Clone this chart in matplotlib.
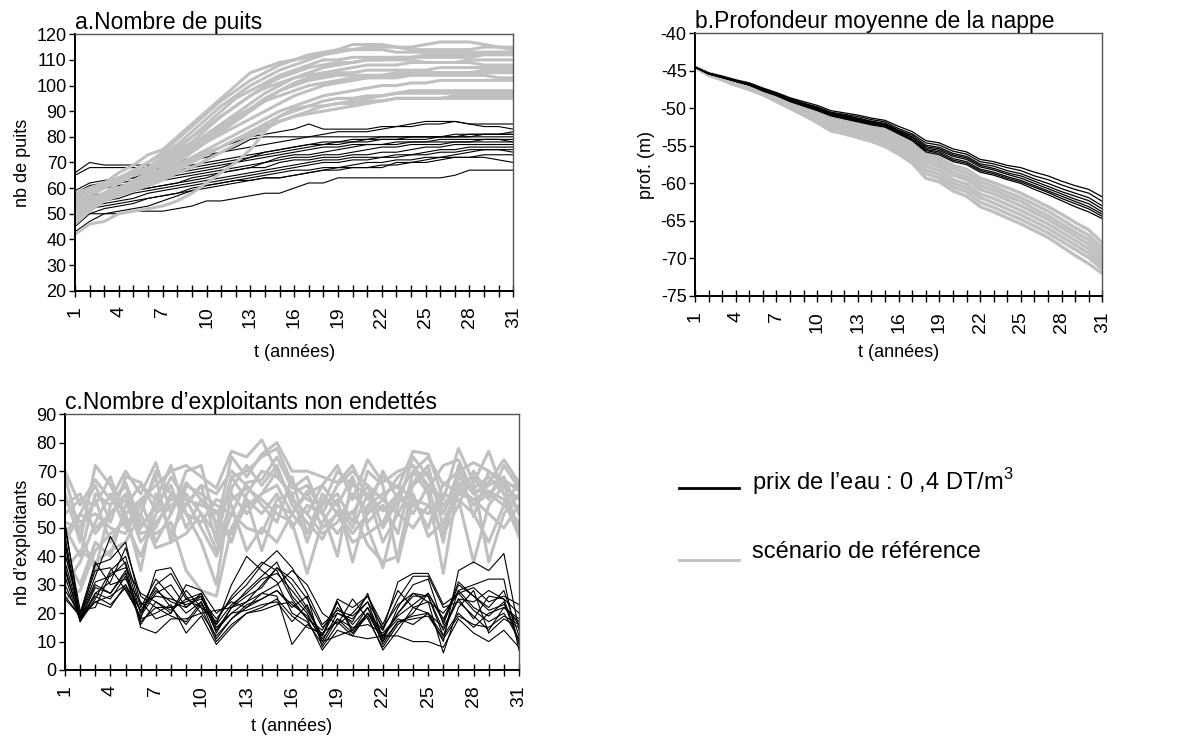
import numpy as np
import matplotlib
matplotlib.use('Agg')
import matplotlib.pyplot as plt
from matplotlib.lines import Line2D

plt.rcParams['font.family'] = ['Liberation Sans', 'DejaVu Sans']
plt.rcParams['mathtext.fontset'] = 'custom'
plt.rcParams['mathtext.rm'] = 'Liberation Sans'
plt.rcParams['axes.unicode_minus'] = False

BLACK = '#000000'
GREY = '#C0C0C0'

years = list(range(1, 32))

# ---- a. Nombre de puits : prix de l'eau 0,4 DT/m3 (black)
puits_prix = [
    [66, 70, 69, 69, 69, 69, 69, 70, 71, 72, 74, 76, 79, 80, 80, 80, 80, 80, 80, 80, 80, 80, 80, 80, 80, 80, 80, 80, 81, 81, 81],
    [65, 68, 68, 68, 68, 68, 69, 70, 72, 74, 76, 78, 80, 81, 82, 83, 85, 83, 83, 83, 83, 84, 84, 85, 86, 86, 86, 85, 85, 85, 85],
    [59, 62, 63, 64, 66, 67, 68, 69, 71, 73, 74, 75, 76, 77, 78, 79, 80, 81, 82, 82, 82, 83, 84, 84, 85, 85, 86, 85, 84, 84, 83],
    [57, 60, 62, 63, 64, 66, 67, 68, 69, 70, 71, 72, 73, 74, 75, 76, 77, 78, 78, 79, 79, 80, 80, 80, 80, 80, 81, 81, 81, 81, 82],
    [55, 58, 60, 61, 62, 63, 64, 65, 66, 67, 68, 70, 72, 74, 75, 76, 77, 77, 78, 78, 78, 79, 79, 79, 79, 80, 80, 80, 80, 80, 80],
    [54, 57, 58, 59, 61, 62, 63, 64, 65, 66, 67, 68, 69, 70, 72, 73, 73, 74, 75, 76, 77, 77, 77, 78, 78, 78, 78, 78, 79, 79, 79],
    [53, 56, 57, 58, 59, 60, 61, 62, 64, 65, 66, 67, 68, 70, 71, 72, 72, 73, 73, 74, 75, 76, 76, 77, 77, 77, 78, 78, 78, 78, 78],
    [52, 55, 56, 58, 59, 60, 61, 62, 63, 64, 66, 67, 68, 68, 70, 71, 71, 72, 72, 73, 73, 74, 74, 75, 76, 76, 77, 77, 77, 77, 77],
    [51, 54, 55, 56, 58, 59, 60, 61, 62, 63, 64, 65, 66, 67, 68, 69, 70, 71, 71, 72, 72, 72, 73, 73, 74, 75, 75, 76, 76, 76, 76],
    [50, 53, 54, 55, 56, 58, 59, 60, 61, 62, 63, 64, 65, 66, 67, 68, 69, 70, 70, 71, 71, 72, 72, 73, 73, 74, 74, 75, 75, 75, 75],
    [49, 52, 53, 54, 55, 56, 57, 58, 60, 61, 62, 63, 64, 65, 66, 67, 67, 68, 68, 68, 68, 68, 70, 70, 71, 72, 73, 74, 75, 75, 74],
    [47, 50, 52, 53, 54, 56, 57, 58, 59, 60, 61, 62, 63, 64, 64, 65, 66, 67, 67, 68, 68, 69, 69, 70, 70, 71, 72, 72, 73, 73, 73],
    [45, 50, 50, 50, 51, 51, 51, 52, 53, 55, 55, 56, 57, 58, 58, 60, 62, 62, 64, 64, 64, 64, 64, 64, 64, 64, 65, 67, 67, 67, 67],
    [43, 47, 50, 51, 52, 53, 55, 57, 59, 61, 62, 63, 63, 64, 64, 65, 66, 67, 68, 69, 70, 70, 71, 71, 72, 72, 72, 72, 72, 71, 70],
    [58, 61, 62, 63, 64, 65, 66, 67, 68, 69, 70, 71, 72, 73, 74, 75, 76, 77, 77, 78, 79, 79, 79, 80, 80, 80, 80, 81, 81, 81, 81],
    [56, 59, 61, 62, 63, 64, 65, 66, 67, 68, 69, 70, 71, 72, 73, 74, 75, 76, 76, 77, 77, 77, 78, 78, 78, 79, 79, 79, 79, 79, 78],
]

# ---- a. Nombre de puits : scenario de reference (grey)
puits_ref = [
    [55, 58, 62, 66, 69, 73, 75, 80, 85, 90, 95, 100, 105, 107, 109, 110, 111, 112, 114, 116, 116, 116, 115, 115, 116, 117, 117, 117, 116, 115, 115],
    [52, 57, 60, 63, 66, 70, 74, 79, 84, 89, 94, 98, 102, 105, 108, 110, 112, 113, 114, 114, 115, 115, 115, 114, 114, 114, 114, 114, 115, 115, 114],
    [57, 60, 62, 64, 67, 70, 73, 77, 82, 87, 92, 96, 100, 103, 106, 108, 110, 112, 113, 114, 114, 114, 113, 113, 113, 113, 113, 113, 113, 113, 113],
    [50, 55, 58, 62, 65, 68, 72, 76, 80, 85, 90, 95, 98, 101, 104, 106, 108, 110, 110, 111, 111, 111, 111, 111, 111, 111, 111, 111, 112, 112, 112],
    [48, 53, 57, 60, 63, 66, 70, 74, 78, 83, 88, 92, 96, 100, 103, 105, 107, 108, 109, 109, 110, 110, 110, 110, 109, 109, 109, 110, 110, 110, 110],
    [54, 58, 61, 63, 65, 67, 70, 73, 77, 81, 85, 89, 93, 97, 100, 103, 104, 105, 106, 107, 108, 108, 108, 109, 109, 109, 109, 109, 108, 108, 108],
    [46, 51, 55, 58, 61, 64, 67, 70, 74, 78, 82, 86, 90, 94, 98, 101, 103, 104, 105, 105, 106, 106, 106, 106, 106, 107, 107, 107, 107, 107, 107],
    [53, 56, 58, 60, 62, 64, 67, 71, 75, 79, 83, 87, 91, 95, 98, 100, 102, 103, 104, 104, 104, 104, 105, 105, 105, 105, 105, 105, 105, 105, 105],
    [56, 59, 61, 63, 65, 67, 69, 72, 75, 78, 81, 84, 87, 90, 93, 96, 98, 100, 101, 102, 103, 103, 103, 104, 104, 104, 104, 104, 104, 103, 103],
    [51, 55, 58, 60, 62, 64, 66, 69, 72, 75, 78, 81, 84, 87, 90, 92, 94, 96, 97, 98, 99, 100, 100, 101, 101, 102, 102, 102, 102, 102, 102],
    [49, 53, 56, 58, 60, 62, 64, 67, 70, 73, 76, 79, 82, 85, 88, 90, 92, 94, 95, 95, 96, 96, 97, 98, 98, 98, 98, 98, 98, 98, 98],
    [52, 55, 57, 59, 61, 63, 65, 68, 71, 74, 76, 79, 81, 84, 86, 88, 90, 92, 93, 94, 95, 96, 97, 97, 97, 97, 97, 97, 97, 97, 97],
    [47, 52, 55, 57, 59, 61, 63, 66, 68, 71, 74, 77, 80, 83, 86, 88, 89, 90, 91, 92, 93, 94, 95, 95, 95, 95, 96, 96, 96, 96, 96],
    [42, 46, 47, 50, 51, 52, 53, 55, 58, 62, 66, 70, 75, 82, 88, 91, 92, 92, 93, 93, 94, 94, 95, 95, 95, 95, 95, 95, 95, 95, 95],
    [58, 60, 62, 64, 66, 68, 71, 75, 80, 84, 88, 92, 96, 99, 101, 103, 105, 107, 108, 109, 110, 110, 111, 111, 112, 112, 112, 112, 113, 113, 113],
    [50, 54, 57, 59, 62, 65, 68, 72, 76, 80, 84, 88, 91, 94, 96, 98, 100, 101, 102, 103, 103, 104, 104, 104, 105, 105, 105, 105, 106, 106, 106],
]

# ---- b. Profondeur moyenne de la nappe (m)
prof_prix = [
    [-44.5, -45.3, -45.7, -46.2, -46.6, -47.3, -47.9, -48.6, -49.1, -49.6, -50.3, -50.6, -50.9, -51.3, -51.6, -52.4, -53.1, -54.3, -54.6, -55.4, -55.8, -56.8, -57.1, -57.6, -57.9, -58.5, -59.0, -59.7, -60.3, -60.8, -61.8],
    [-44.5, -45.3, -45.8, -46.3, -46.7, -47.4, -48.0, -48.7, -49.3, -49.8, -50.5, -50.8, -51.1, -51.5, -51.8, -52.7, -53.4, -54.6, -54.9, -55.7, -56.1, -57.1, -57.4, -57.9, -58.3, -59.0, -59.5, -60.2, -60.8, -61.3, -62.4],
    [-44.5, -45.3, -45.8, -46.3, -46.7, -47.4, -48.1, -48.8, -49.4, -49.9, -50.6, -50.9, -51.3, -51.7, -52.0, -52.9, -53.6, -54.9, -55.2, -56.0, -56.4, -57.4, -57.7, -58.3, -58.7, -59.4, -60.0, -60.7, -61.3, -61.9, -63.0],
    [-44.5, -45.4, -45.8, -46.3, -46.8, -47.5, -48.1, -48.9, -49.5, -50.0, -50.7, -51.0, -51.4, -51.8, -52.1, -53.0, -53.8, -55.1, -55.4, -56.2, -56.6, -57.6, -58.0, -58.6, -59.0, -59.7, -60.4, -61.1, -61.7, -62.3, -63.4],
    [-44.5, -45.4, -45.8, -46.4, -46.8, -47.5, -48.2, -48.9, -49.5, -50.1, -50.8, -51.1, -51.5, -51.9, -52.2, -53.1, -53.9, -55.3, -55.6, -56.4, -56.8, -57.8, -58.2, -58.8, -59.3, -60.0, -60.7, -61.4, -62.1, -62.7, -63.8],
    [-44.5, -45.4, -45.9, -46.4, -46.9, -47.6, -48.2, -49.0, -49.6, -50.2, -50.9, -51.2, -51.6, -52.0, -52.3, -53.2, -54.1, -55.5, -55.8, -56.7, -57.1, -58.1, -58.5, -59.1, -59.6, -60.3, -61.0, -61.7, -62.4, -63.1, -64.1],
    [-44.5, -45.4, -45.9, -46.4, -46.9, -47.6, -48.3, -49.0, -49.6, -50.2, -50.9, -51.3, -51.7, -52.1, -52.4, -53.3, -54.2, -55.6, -56.0, -56.9, -57.3, -58.3, -58.7, -59.3, -59.8, -60.5, -61.2, -62.0, -62.7, -63.4, -64.4],
    [-44.5, -45.4, -45.9, -46.4, -46.9, -47.7, -48.3, -49.1, -49.7, -50.3, -51.0, -51.4, -51.8, -52.2, -52.5, -53.4, -54.3, -55.8, -56.2, -57.1, -57.5, -58.5, -58.9, -59.5, -60.0, -60.8, -61.5, -62.3, -63.1, -63.8, -64.7],
]

prof_ref = [
    [-44.5, -45.3, -45.8, -46.3, -46.8, -47.4, -48.0, -48.7, -49.4, -50.2, -50.9, -51.3, -51.8, -52.3, -52.7, -53.6, -54.5, -56.0, -56.6, -57.6, -58.1, -59.3, -59.9, -60.6, -61.3, -62.2, -63.1, -64.1, -65.2, -66.2, -67.9],
    [-44.5, -45.4, -45.9, -46.4, -46.9, -47.5, -48.2, -48.9, -49.6, -50.4, -51.2, -51.6, -52.1, -52.6, -53.0, -53.9, -54.9, -56.4, -57.0, -58.0, -58.6, -59.8, -60.4, -61.2, -61.9, -62.8, -63.7, -64.8, -65.9, -66.9, -68.6],
    [-44.5, -45.4, -45.9, -46.5, -47.0, -47.6, -48.3, -49.1, -49.8, -50.6, -51.4, -51.9, -52.4, -52.9, -53.3, -54.2, -55.2, -56.8, -57.4, -58.5, -59.1, -60.3, -60.9, -61.7, -62.4, -63.4, -64.3, -65.4, -66.5, -67.5, -69.2],
    [-44.5, -45.4, -46.0, -46.6, -47.1, -47.7, -48.4, -49.2, -49.9, -50.8, -51.6, -52.1, -52.7, -53.2, -53.6, -54.6, -55.6, -57.2, -57.8, -58.9, -59.5, -60.8, -61.4, -62.2, -63.0, -63.9, -64.8, -65.9, -67.0, -68.1, -69.8],
    [-44.5, -45.5, -46.0, -46.7, -47.2, -47.8, -48.6, -49.4, -50.1, -51.0, -51.9, -52.4, -53.0, -53.5, -54.0, -55.0, -56.0, -57.7, -58.3, -59.5, -60.1, -61.4, -62.0, -62.8, -63.6, -64.5, -65.4, -66.5, -67.6, -68.7, -70.4],
    [-44.5, -45.5, -46.1, -46.8, -47.3, -47.9, -48.7, -49.6, -50.3, -51.3, -52.2, -52.7, -53.3, -53.8, -54.3, -55.3, -56.4, -58.2, -58.8, -60.0, -60.6, -61.9, -62.6, -63.4, -64.2, -65.1, -66.0, -67.1, -68.2, -69.3, -70.9],
    [-44.5, -45.5, -46.2, -46.9, -47.4, -48.1, -48.9, -49.8, -50.6, -51.6, -52.6, -53.0, -53.6, -54.1, -54.7, -55.7, -56.8, -58.7, -59.3, -60.5, -61.1, -62.5, -63.2, -64.0, -64.8, -65.7, -66.6, -67.7, -68.8, -69.9, -71.4],
    [-44.5, -45.6, -46.2, -46.9, -47.5, -48.2, -49.1, -50.0, -50.9, -51.9, -53.0, -53.4, -53.9, -54.4, -55.1, -56.1, -57.3, -59.3, -59.8, -61.0, -61.7, -63.1, -63.8, -64.6, -65.4, -66.3, -67.2, -68.4, -69.6, -70.7, -72.0],
]

# ---- c. Nombre d'exploitants non endettes
expl_prix = [
    [52, 18, 30, 27, 34, 20, 28, 24, 22, 27, 15, 20, 24, 30, 36, 30, 22, 12, 22, 16, 22, 12, 20, 27, 26, 12, 28, 22, 19, 24, 9],
    [45, 17, 25, 35, 40, 22, 32, 26, 20, 24, 14, 22, 28, 33, 38, 26, 20, 10, 20, 18, 24, 10, 22, 30, 32, 16, 30, 26, 22, 28, 12],
    [38, 19, 33, 47, 37, 16, 24, 20, 28, 22, 17, 26, 32, 38, 35, 25, 18, 14, 24, 14, 20, 14, 25, 33, 33, 22, 24, 19, 14, 22, 17],
    [30, 18, 24, 22, 30, 18, 35, 36, 26, 20, 12, 18, 23, 25, 28, 22, 26, 8, 16, 20, 26, 16, 28, 22, 20, 10, 35, 38, 35, 41, 14],
    [28, 20, 38, 30, 32, 24, 18, 20, 30, 28, 20, 24, 22, 27, 30, 35, 30, 20, 16, 25, 18, 8, 16, 20, 27, 18, 28, 30, 32, 32, 7],
    [47, 18, 27, 31, 43, 26, 22, 22, 16, 23, 16, 30, 40, 35, 31, 20, 17, 9, 18, 13, 20, 12, 18, 16, 20, 12, 20, 15, 20, 22, 18],
    [41, 20, 35, 36, 28, 19, 27, 30, 22, 26, 13, 22, 26, 29, 36, 32, 25, 15, 20, 17, 27, 11, 20, 26, 26, 14, 25, 18, 26, 25, 10],
    [35, 18, 29, 27, 35, 15, 13, 18, 18, 20, 21, 22, 24, 27, 26, 9, 16, 12, 24, 13, 19, 7, 14, 22, 24, 6, 22, 28, 13, 18, 15],
    [26, 19, 24, 26, 30, 21, 29, 22, 24, 26, 14, 20, 21, 23, 24, 17, 23, 10, 12, 14, 22, 9, 17, 19, 20, 15, 25, 24, 28, 25, 20],
    [33, 17, 27, 25, 33, 17, 22, 19, 17, 24, 11, 18, 22, 25, 28, 23, 19, 11, 18, 15, 16, 13, 19, 23, 27, 17, 31, 26, 21, 23, 16],
    [44, 18, 37, 39, 45, 23, 26, 25, 23, 25, 18, 25, 30, 37, 42, 36, 27, 16, 21, 19, 24, 15, 23, 27, 24, 20, 27, 21, 17, 20, 11],
    [25, 19, 31, 33, 38, 20, 30, 34, 25, 22, 10, 16, 20, 22, 25, 19, 15, 13, 17, 12, 20, 10, 17, 18, 19, 11, 19, 16, 15, 19, 16],
    [50, 21, 22, 34, 36, 27, 24, 21, 25, 27, 16, 23, 27, 32, 34, 28, 21, 12, 25, 22, 26, 14, 31, 34, 34, 23, 27, 29, 24, 26, 23],
    [36, 18, 26, 23, 29, 18, 20, 23, 13, 19, 9, 15, 20, 21, 23, 24, 18, 7, 14, 12, 11, 12, 12, 10, 10, 8, 18, 13, 10, 14, 8],
]

expl_ref = [
    [70, 58, 67, 60, 70, 62, 73, 55, 70, 72, 50, 75, 68, 76, 80, 70, 70, 68, 66, 72, 60, 68, 64, 77, 76, 60, 78, 66, 77, 62, 50],
    [62, 45, 72, 65, 55, 60, 65, 70, 72, 68, 64, 77, 75, 81, 70, 60, 55, 65, 72, 60, 74, 66, 70, 72, 64, 72, 74, 62, 66, 74, 66],
    [55, 60, 58, 68, 52, 55, 70, 62, 58, 65, 45, 68, 70, 75, 78, 66, 60, 58, 70, 65, 62, 56, 62, 70, 75, 65, 70, 73, 70, 65, 60],
    [50, 40, 62, 58, 65, 50, 58, 65, 50, 60, 55, 62, 55, 62, 65, 55, 63, 50, 55, 48, 55, 60, 55, 65, 70, 55, 68, 62, 65, 68, 55],
    [45, 55, 50, 55, 60, 45, 52, 58, 62, 55, 42, 60, 64, 60, 55, 52, 34, 52, 60, 38, 58, 62, 65, 60, 50, 66, 62, 60, 63, 60, 47],
    [60, 52, 55, 50, 48, 58, 68, 45, 65, 62, 58, 55, 50, 48, 60, 62, 65, 56, 40, 68, 50, 36, 58, 75, 68, 58, 65, 68, 60, 72, 64],
    [40, 30, 45, 40, 58, 65, 60, 72, 55, 45, 30, 64, 72, 65, 72, 58, 52, 46, 56, 55, 65, 50, 60, 58, 55, 62, 60, 38, 58, 65, 65],
    [25, 28, 42, 48, 52, 40, 55, 60, 60, 58, 56, 45, 62, 70, 68, 62, 45, 60, 58, 68, 52, 58, 48, 70, 62, 34, 66, 58, 62, 58, 52],
    [68, 48, 35, 58, 66, 52, 48, 52, 35, 28, 26, 50, 60, 55, 62, 50, 58, 55, 48, 56, 44, 38, 40, 66, 72, 50, 62, 66, 38, 55, 62],
    [52, 50, 60, 45, 55, 35, 62, 48, 58, 65, 62, 70, 65, 58, 52, 68, 48, 58, 62, 52, 70, 65, 38, 60, 58, 55, 70, 64, 68, 62, 56],
    [30, 38, 52, 62, 50, 60, 45, 55, 66, 60, 52, 48, 58, 62, 70, 60, 55, 48, 52, 62, 56, 70, 60, 62, 47, 52, 64, 60, 55, 50, 58],
    [58, 62, 48, 55, 62, 48, 50, 62, 55, 52, 60, 58, 42, 50, 45, 55, 62, 65, 58, 50, 62, 45, 55, 50, 58, 48, 58, 70, 62, 67, 63],
    [35, 42, 38, 42, 45, 55, 43, 45, 48, 55, 48, 68, 60, 42, 58, 55, 48, 62, 55, 45, 48, 52, 62, 55, 65, 58, 60, 55, 45, 58, 66],
    [48, 55, 65, 52, 68, 66, 56, 68, 60, 50, 40, 55, 66, 67, 75, 64, 68, 55, 65, 70, 65, 60, 68, 72, 65, 45, 72, 54, 70, 66, 48],
]

xtick_labels = [str(t) if (t - 1) % 3 == 0 else '' for t in years]


def style_axis(ax, ylim, yticks, ylabel, title, xlabelpad=8):
    ax.set_xlim(1, 31)
    ax.set_ylim(*ylim)
    ax.set_yticks(yticks)
    ax.set_xticks(years)
    ax.set_xticklabels(xtick_labels, rotation=90, fontsize=14)
    ax.tick_params(axis='x', direction='inout', length=8, width=1, pad=7)
    ax.tick_params(axis='y', direction='out', length=4, width=1, labelsize=13, pad=2)
    for side in ['left', 'bottom']:
        ax.spines[side].set_linewidth(1.4)
        ax.spines[side].set_color('black')
    for side in ['top', 'right']:
        ax.spines[side].set_linewidth(1.0)
        ax.spines[side].set_color('#555555')
    ax.set_xlabel('t (années)', fontsize=13, labelpad=xlabelpad)
    ax.set_ylabel(ylabel, fontsize=13, labelpad=4)
    ax.set_title(title, loc='left', fontsize=16.5, pad=2)


fig = plt.figure(figsize=(11.89, 7.40), dpi=100)

# ---------------- a ----------------
ax_a = fig.add_axes([0.0631, 0.6072, 0.3686, 0.3465])
for s in puits_prix:
    ax_a.plot(years, s, color=BLACK, lw=0.8)
for s in puits_ref:
    ax_a.plot(years, s, color=GREY, lw=2.2)
style_axis(ax_a, (20, 120), range(20, 121, 10), 'nb de puits', 'a.Nombre de puits', xlabelpad=12)

# ---------------- b ----------------
ax_b = fig.add_axes([0.5845, 0.6, 0.3426, 0.355])
for s in prof_ref:
    ax_b.plot(years, s, color=GREY, lw=2.4)
for s in prof_prix:
    ax_b.plot(years, s, color=BLACK, lw=0.9)
style_axis(ax_b, (-75, -40), range(-75, -39, 5), 'prof. (m)', 'b.Profondeur moyenne de la nappe')

# ---------------- c ----------------
ax_c = fig.add_axes([0.0547, 0.0946, 0.3818, 0.3455])
for s in expl_ref:
    ax_c.plot(years, s, color=GREY, lw=2.2)
for s in expl_prix:
    ax_c.plot(years, s, color=BLACK, lw=0.8)
style_axis(ax_c, (0, 90), range(0, 91, 10), 'nb d’exploitants', 'c.Nombre d’exploitants non endettés')

# ---------------- legend ----------------
fig.add_artist(Line2D([679 / 1189, 739 / 1189], [1 - 488 / 740, 1 - 488 / 740],
                      color=BLACK, lw=2.0))
fig.add_artist(Line2D([679 / 1189, 739 / 1189], [1 - 560 / 740, 1 - 560 / 740],
                      color=GREY, lw=2.0))
fig.text(752 / 1189, 1 - 482 / 740, 'prix de l’eau : 0 ,4 DT/m$^3$', fontsize=17, va='center', ha='left')
fig.text(752 / 1189, 1 - 552 / 740, 'scénario de référence', fontsize=17, va='center', ha='left')

fig.savefig('out.png', dpi=100, facecolor='white')
plt.close(fig)
